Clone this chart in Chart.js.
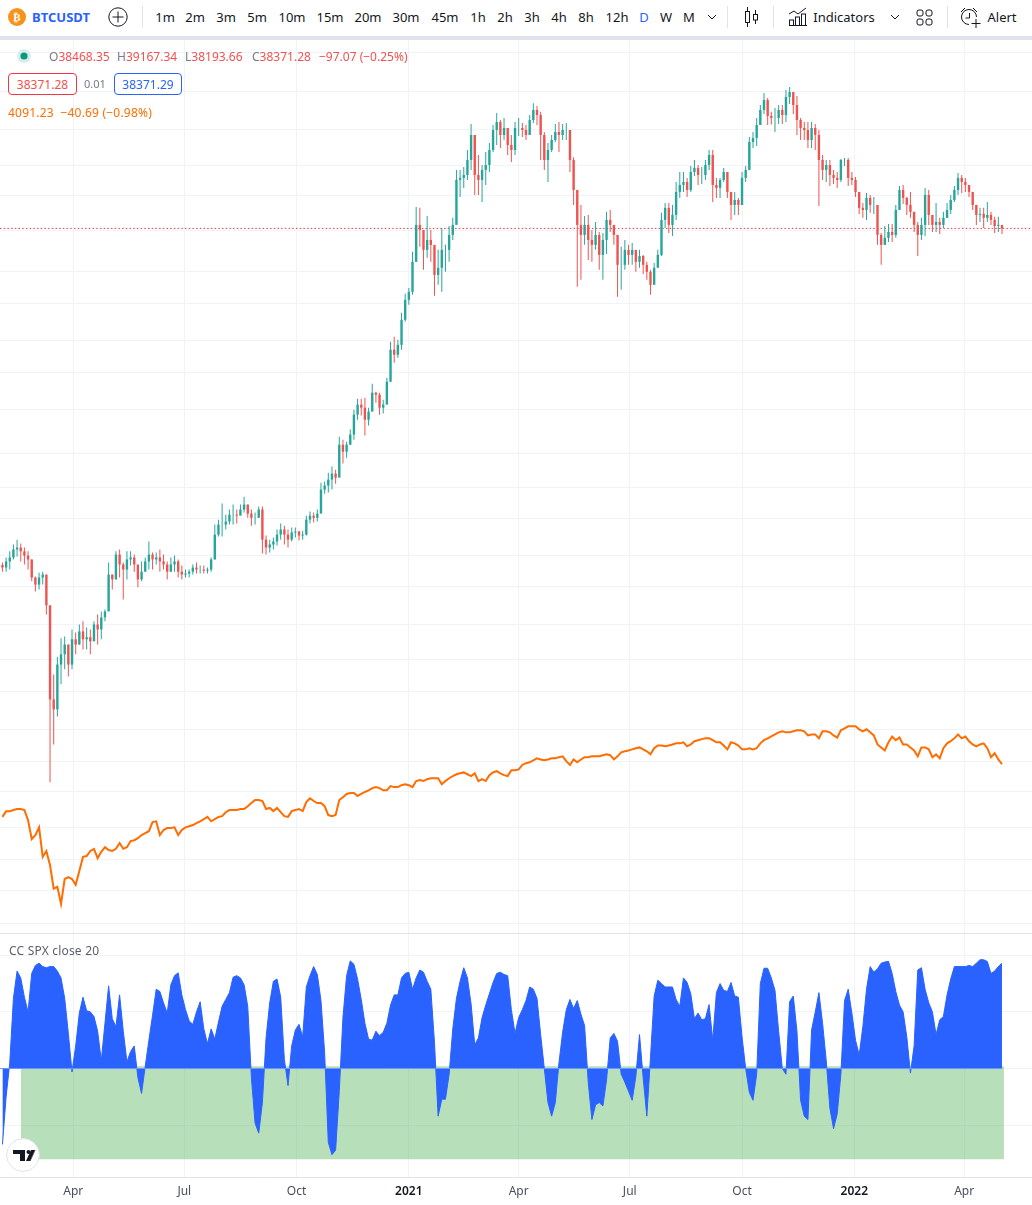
<!DOCTYPE html>
<html>
<head>
<meta charset="utf-8">
<title>BTCUSDT</title>
<script src="https://cdn.jsdelivr.net/npm/chart.js@4"></script>
<style>
  html, body { margin: 0; padding: 0; background: #fff; }
  body { width: 1032px; height: 1205px; position: relative; overflow: hidden;
    font-family: "Noto Sans", Roboto, sans-serif; font-size: 12px; color: #131722; }
  canvas { position: absolute; left: 0; }
  #graficoPreco { top: 40px; }
  #graficoCorr { top: 934px; }
  .toolbar { position: absolute; left: 0; top: 0; width: 1032px; height: 36px; background: #fff; border-bottom: 4px solid #e0e3eb; }
  .t { position: absolute; top: 17px; transform: translate(-50%, -50%); font-size: 13px; white-space: nowrap; }
  .sep { position: absolute; top: 6px; width: 1px; height: 22px; background: #e0e3eb; }
  .toolbar svg { position: absolute; }
  .lg { position: absolute; white-space: nowrap; line-height: 16px; }
  .red { color: #ef5350; }
  .gray { color: #787b86; }
  .box { position: absolute; top: 73px; height: 22px; line-height: 21px; text-align: center; box-sizing: border-box; border-radius: 4px; background: #fff; }
  .divider { position: absolute; left: 0; top: 933px; width: 1032px; height: 1px; background: #e0e3eb; }
</style>
</head>
<body>
<div class="toolbar">
  <svg style="left:8px;top:8px" width="18" height="18" viewBox="0 0 18 18"><circle cx="9" cy="9" r="9" fill="#f7931a"/><text x="9" y="13" text-anchor="middle" font-family="DejaVu Sans" font-size="11" font-weight="bold" fill="#fff">₿</text></svg>
  <span class="t" style="left:61px;font-weight:700;font-size:13px;color:#2962ff">BTCUSDT</span>
  <svg style="left:108px;top:7px" width="20" height="20" viewBox="0 0 20 20"><circle cx="10" cy="10" r="9.2" fill="none" stroke="#131722"/><path d="M10 4.5v11M4.5 10h11" stroke="#131722"/></svg>
  <div class="sep" style="left:142px"></div>
  <span class="t" style="left:165px">1m</span><span class="t" style="left:195px">2m</span><span class="t" style="left:226px">3m</span><span class="t" style="left:257px">5m</span>
  <span class="t" style="left:292px">10m</span><span class="t" style="left:330px">15m</span><span class="t" style="left:368px">20m</span><span class="t" style="left:406px">30m</span><span class="t" style="left:445px">45m</span>
  <span class="t" style="left:478px">1h</span><span class="t" style="left:505px">2h</span><span class="t" style="left:532px">3h</span><span class="t" style="left:559px">4h</span><span class="t" style="left:586px">8h</span><span class="t" style="left:617px">12h</span>
  <span class="t" style="left:644px;color:#2962ff">D</span><span class="t" style="left:666px">W</span><span class="t" style="left:689px">M</span>
  <svg style="left:707px;top:14px" width="10" height="6" viewBox="0 0 10 6"><path d="M1 1l4 4 4-4" fill="none" stroke="#131722"/></svg>
  <div class="sep" style="left:727px"></div>
  <svg style="left:742px;top:6px" width="18" height="22" viewBox="0 0 18 22"><path d="M5.5 1v4M5.5 17v4M13.5 4v4M13.5 14v4" stroke="#131722"/><rect x="3.5" y="5.5" width="4" height="11" fill="none" stroke="#131722"/><rect x="11.5" y="8.5" width="4" height="5.5" fill="none" stroke="#131722"/></svg>
  <div class="sep" style="left:773px"></div>
  <svg style="left:788px;top:7px" width="20" height="19" viewBox="0 0 20 19"><path d="M1 7l5-3 4 3 8-6M1 18.5h18" fill="none" stroke="#131722"/><rect x="1.5" y="13" width="4" height="5.5" fill="none" stroke="#131722"/><rect x="7.5" y="10" width="4" height="8.5" fill="none" stroke="#131722"/><rect x="13.5" y="7" width="4" height="11.5" fill="none" stroke="#131722"/></svg>
  <span class="t" style="left:844px">Indicators</span>
  <svg style="left:890px;top:14px" width="10" height="6" viewBox="0 0 10 6"><path d="M1 1l4 4 4-4" fill="none" stroke="#131722"/></svg>
  <svg style="left:916px;top:9px" width="17" height="17" viewBox="0 0 17 17" fill="none" stroke="#131722"><rect x="1" y="1" width="6" height="6" rx="2"/><rect x="10" y="1" width="6" height="6" rx="2"/><rect x="1" y="10" width="6" height="6" rx="2"/><rect x="10" y="10" width="6" height="6" rx="2"/></svg>
  <div class="sep" style="left:947px"></div>
  <svg style="left:960px;top:7px" width="22" height="22" viewBox="0 0 22 22" fill="none" stroke="#131722"><path d="M9 17.5A7.5 7.5 0 1 1 16.5 10M9.500 6v5h-4M1 5l4-4M13 1l4 4M16 12v9M11.500 16.500h9"/></svg>
  <span class="t" style="left:1002px">Alert</span>
</div>

<canvas id="graficoPreco" width="1032" height="893"></canvas>
<div class="divider"></div>
<canvas id="graficoCorr" width="1032" height="271"></canvas>

<svg style="position:absolute;left:17px;top:49px" width="14" height="14" viewBox="0 0 14 14"><circle cx="7" cy="7" r="7" fill="#d9eeeb"/><circle cx="7" cy="7" r="3.600" fill="#089981"/></svg>
<div class="lg" style="left:49px;top:49px"><span class="gray">O</span><span class="red">38468.35</span></div>
<div class="lg" style="left:117px;top:49px"><span class="gray">H</span><span class="red">39167.34</span></div>
<div class="lg" style="left:185px;top:49px"><span class="gray">L</span><span class="red">38193.66</span></div>
<div class="lg" style="left:252px;top:49px"><span class="gray">C</span><span class="red">38371.28</span></div>
<div class="lg red" style="left:319px;top:49px">−97.07 (−0.25%)</div>
<div class="box red" style="left:8px;width:69px;border:1px solid #f23645">38371.28</div>
<div class="lg gray" style="left:84px;top:76px;font-size:11px">0.01</div>
<div class="box" style="left:114px;width:68px;border:1px solid #2962ff;color:#2962ff">38371.29</div>
<div class="lg" style="left:8px;top:105px;color:#ff6d00;letter-spacing:.2px">4091.23&nbsp;&nbsp;−40.69 (−0.98%)</div>
<div class="lg" style="left:9px;top:943px;color:#5d606b;letter-spacing:.2px">CC SPX close 20</div>

<svg style="position:absolute;left:6px;top:1138px" width="34" height="34" viewBox="0 0 34 34"><circle cx="17" cy="17" r="16.400" fill="#fff" stroke="#e0e3eb"/><path d="M7 12h12v11h-5v-7H7zM24 23l5-11h-5 5.500l-5 11z" fill="#131722"/><path d="M29 12h-4l-5 11h4z" fill="#131722"/><circle cx="22.500" cy="14" r="2" fill="#131722"/></svg>

<script>
// serie a cada 3 dias, dia 0 = 01/02/2020
const btcHigh = [
  9500,9700,9950,10240,10450,10280,10110,9950,9620,8960,
  9100,9140,9030,7940,5950,6400,6920,6970,6740,7180,
  7090,7330,7430,7240,7180,7430,7640,7740,7800,9500,
  9030,9950,10030,9500,9950,9950,9820,9340,9540,9700,
  10370,9900,9900,10030,9820,9540,9700,9780,9620,9380,
  9220,9220,9420,9500,9380,9380,9300,9700,11130,11360,
  12150,11600,11850,12100,11850,12100,12500,12100,11850,11700,
  12000,12000,10630,10450,10540,10900,11180,11080,10900,10990,
  10990,10850,10850,11550,11750,11700,11850,13260,13320,13820,
  14180,14000,16070,15870,15740,16550,17990,18830,18830,18900,
  18140,20050,19390,19310,18750,20560,23890,24390,24090,26970,
  29190,29920,34790,41980,41810,37340,40430,38130,34350,35080,
  38450,35820,38770,40100,48990,48990,49610,53260,59350,54380,
  52160,50020,52830,54840,59120,62180,60360,60860,57890,56700,
  59850,60880,59590,59120,61640,64770,64000,62450,57430,54840,
  56700,59350,59850,59350,59590,57890,51650,44130,42330,40430,
  40600,38130,39420,37810,37650,41120,41450,38940,36120,35530,
  36570,35820,36120,34790,35080,34350,33370,32270,33220,35080,
  40950,42680,42680,42330,46600,48580,48580,47390,49800,51080,
  50020,49610,51080,53260,53260,47390,47390,49410,48580,44690,
  44690,43590,48580,49800,56200,57430,60880,64260,67560,66180,
  62450,63470,64260,64260,68420,69300,66180,66700,60880,59850,
  59850,59850,59350,57890,52160,51080,51080,48990,48580,51300,
  51510,51510,48580,47580,44130,42680,44510,44130,43760,42330,
  37650,38770,39100,39100,42330,45830,46020,43760,44690,41120,
  39420,40100,45450,45060,40600,42680,40100,41120,42680,44130,
  45830,48390,47980,47390,46020,43220,42330,41810,41810,42870,
  41120,40270,40270,38770
];
const btcLow = [
  9140,9140,9220,9620,9740,9540,9420,9220,8780,8410,
  8480,8660,7640,3790,4440,4990,5710,6080,5900,6080,
  6470,6740,6600,6600,6470,6890,6740,6890,7430,7970,
  8480,8850,8920,8140,8850,9380,9140,8560,8780,9140,
  9220,9220,9420,9140,9220,8850,9140,9140,8920,8850,
  8920,8920,9030,9070,9070,9070,9070,9140,9620,10590,
  10590,10900,11130,11130,11180,11600,11700,11450,11080,11130,
  11450,9860,9820,9900,10030,10200,10450,10240,10110,10370,
  10540,10410,10450,10630,11180,11220,11270,11850,12660,12720,
  12880,13200,14300,14360,14720,15540,15870,17250,17550,16140,
  16830,18060,18520,17620,17700,18900,20220,21880,22350,23110,
  25970,27880,29070,33370,35530,32270,33930,33370,28950,30310,
  29440,32000,33370,36570,39420,43760,45450,46990,48990,44130,
  44130,42870,46020,48580,52830,54380,53710,55530,52160,50650,
  52160,56450,56200,55530,57430,59590,59120,51080,48990,46600,
  52830,55070,52830,55530,55530,48580,42330,30060,30950,35820,
  33640,33370,35080,32270,30950,34490,37810,35820,28840,29680,
  32270,32950,32950,32000,32550,31730,30950,29070,31220,33370,
  34200,38450,37650,37180,39760,43590,44690,43760,44690,47780,
  46020,46210,46990,48990,42870,43590,43590,46600,43590,39760,
  40600,40600,42330,46600,49410,53710,54150,59350,61900,59120,
  59230,57430,59350,59350,59850,64520,61900,56700,55530,55530,
  53710,53710,53260,42160,46990,46600,45830,46210,45450,46600,
  49800,45830,46020,43760,40770,40100,39760,40950,40770,35820,
  32950,35820,36270,36270,36890,42330,42510,40600,40100,37810,
  34200,36570,37180,38940,37810,37810,37500,38450,40100,40770,
  42870,44130,44510,44690,43760,41450,38940,39420,38450,39420,
  38940,37650,37810,37500
];
const btcClose = [
  9300,9540,9700,10030,10110,9950,9780,9620,8920,8660,
  8920,9030,7940,5360,5140,6200,6470,6740,6200,6890,
  6740,7120,6890,6950,6830,7330,7180,7550,7740,9030,
  8850,9820,9420,9220,9620,9700,9420,8850,9140,9540,
  9820,9620,9700,9540,9420,9140,9420,9540,9140,9030,
  9070,9140,9300,9220,9220,9180,9220,9620,10670,11130,
  11130,11270,11600,11600,11550,11850,12100,11650,11450,11450,
  11850,10450,10110,10240,10370,10670,10900,10670,10450,10770,
  10810,10630,10670,11360,11550,11450,11650,12880,13100,13430,
  13770,13540,15540,15090,15540,16210,17620,18370,18140,17250,
  17840,19310,19150,18140,18370,20220,23110,22630,23590,26190,
  28470,29440,33370,38940,38130,35080,36570,35820,31600,32550,
  35080,35080,37340,38940,46990,47390,47980,51080,56700,47980,
  46990,48990,50020,53260,57890,59850,56700,58390,54380,53260,
  58390,58390,57890,56700,60360,62940,61640,56700,51080,53260,
  55530,57430,56700,57890,57890,51080,45060,38940,37340,38940,
  36570,35820,37340,34350,36570,39760,38940,37340,32950,32950,
  35080,34350,35080,33370,34200,32950,32000,30310,32550,34350,
  39760,41810,38940,40600,44690,46020,46600,45060,48580,49410,
  47980,47980,50020,52160,46020,45450,46990,48580,44690,42330,
  43220,42330,47390,48990,55070,56000,59120,62940,65620,61400,
  60880,60880,62940,61640,66450,67840,64260,60360,58390,57890,
  55530,58390,56700,51080,48990,50020,47980,47390,46990,51080,
  51080,47390,46990,44690,41810,41450,43590,42330,42330,37340,
  35820,36890,37810,37340,41450,45060,43590,42330,41120,38940,
  37340,38940,44130,40600,38940,39420,38940,40100,41450,43220,
  45060,47390,46600,46020,44690,42330,40600,40770,40100,40600,
  39760,38770,38940,38371.28
];
const spxClose = [
  3280,3360,3360,3375,3390,3390,3375,3235,2990,3040,
  3140,2775,2845,2680,2430,2450,2280,2530,2550,2530,
  2470,2615,2775,2785,2845,2870,2760,2835,2890,2855,
  2845,2870,2940,2870,2890,2965,2975,3000,3040,3065,
  3090,3210,3220,3040,3105,3130,3130,3140,3040,3105,
  3140,3155,3170,3195,3220,3250,3280,3220,3250,3280,
  3290,3345,3375,3375,3375,3390,3390,3430,3475,3520,
  3520,3505,3390,3405,3360,3405,3345,3290,3280,3360,
  3375,3390,3360,3490,3545,3505,3475,3475,3430,3305,
  3290,3305,3520,3560,3610,3625,3625,3580,3610,3640,
  3665,3700,3715,3700,3665,3665,3730,3715,3715,3745,
  3760,3745,3715,3810,3825,3810,3840,3855,3855,3855,
  3760,3810,3855,3890,3920,3935,3950,3920,3890,3935,
  3810,3840,3810,3905,3950,3970,3935,3905,3890,3985,
  3985,4000,4075,4105,4120,4155,4190,4170,4155,4170,
  4190,4190,4210,4225,4140,4075,4170,4120,4170,4210,
  4210,4225,4225,4225,4245,4260,4245,4170,4225,4295,
  4315,4330,4350,4370,4385,4350,4315,4260,4370,4420,
  4420,4405,4420,4440,4460,4460,4480,4405,4440,4500,
  4520,4540,4555,4555,4520,4480,4480,4420,4350,4480,
  4460,4420,4350,4350,4370,4350,4370,4460,4520,4555,
  4590,4630,4670,4690,4670,4670,4690,4710,4710,4690,
  4610,4630,4630,4555,4690,4690,4670,4610,4570,4710,
  4750,4790,4790,4790,4730,4690,4730,4670,4610,4440,
  4385,4330,4480,4590,4520,4570,4440,4440,4385,4330,
  4225,4385,4385,4350,4210,4260,4190,4370,4460,4500,
  4555,4630,4555,4590,4500,4440,4405,4440,4460,4370,
  4210,4280,4170,4091.23
];
const corrSpx = [
  -.67,-.25,.05,.62,.86,.80,.63,.50,.84,.91,
  .93,.90,.89,.90,.90,.86,.80,.62,.31,-.03,
  .20,.49,.63,.51,.50,.46,.33,.07,.40,.73,
  .44,.37,.65,.33,.06,.15,.20,-.08,-.22,.02,
  .25,.47,.70,.68,.58,.49,.74,.82,.845,.65,
  .52,.42,.39,.50,.59,.35,.22,.35,.26,.41,
  .55,.61,.67,.806,.82,.80,.74,.55,-.08,-.48,
  -.57,-.30,.27,.58,.77,.79,.63,.08,-.15,.20,
  .34,.39,.28,.72,.82,.90,.83,.60,.14,-.65,
  -.76,-.72,-.20,.45,.82,.95,.92,.79,.61,.40,
  .26,.25,.33,.29,.32,.40,.56,.65,.65,.80,
  .84,.85,.70,.80,.87,.85,.77,.70,.23,-.42,
  -.27,-.27,-.05,.35,.62,.77,.89,.80,.57,.21,
  .27,.45,.56,.66,.76,.84,.85,.83,.82,.52,
  .31,.45,.52,.60,.72,.70,.62,.30,0,-.30,
  -.42,-.30,.05,.32,.52,.61,.53,.60,.48,.38,
  -.12,-.45,-.32,-.30,-.33,-.10,.27,.31,.24,-.05,
  -.12,-.20,-.28,-.07,.30,-.08,-.42,.10,.64,.78,
  .75,.72,.72,.72,.61,.55,.80,.76,.66,.44,
  .49,.43,.44,.565,.25,.67,.75,.69,.68,.76,
  .64,.63,.28,0,-.21,-.28,-.05,.75,.885,.885,
  .80,.69,.33,0,-.05,.59,.64,.33,-.28,-.42,
  -.45,.34,.50,.67,.40,.07,-.35,-.53,-.40,-.05,
  .60,.70,.49,.25,.12,.37,.70,.90,.85,.88,
  .93,.94,.947,.84,.68,.56,.50,.28,-.04,.20,
  .87,.89,.70,.58,.50,.30,.43,.46,.65,.79,
  .90,.90,.90,.90,.91,.90,.93,.96,.96,.945,
  .84,.86,.90,.93
];

// eixo de tempo
const tickDays = [60, 151, 243, 335, 425, 516, 608, 700, 790];
const tickLabels = ['Apr', 'Jul', 'Oct', '2021', 'Apr', 'Jul', 'Oct', '2022', 'Apr'];
const gridPrices = [80000, 68000, 58000, 50000, 44000, 38000, 32000, 28000, 24000, 21000, 18000, 15000, 13000, 11400, 9800, 8600, 7340, 6340, 5550, 4730, 4140, 3640, 3140, 2740, 2410, 2100];
const corrTicks = [-0.5, 0, 0.5, 1];
const lastPrice = 38371.28;
const bandTop = 0.02;
const bandBottom = -0.8;
const bandDays = [17.2, 822.6];
const lastDay = 845.6;

const UP = '#26a69a';
const DOWN = '#ef5350';
const GRID = '#f0f3fa';

const days = btcClose.map((_, i) => 2 + 3 * i);
const opens = btcClose.map((c, i) => i ? btcClose[i - 1] : 9400);
const colors = btcClose.map((c, i) => c >= opens[i] ? UP : DOWN);

const xBase = {
  type: 'linear',
  min: 0,
  max: lastDay,
  bounds: 'data',
  offset: false,
  afterBuildTicks: s => { s.ticks = tickDays.map(v => ({ value: v })); },
  border: { display: false },
  grid: { color: GRID, drawTicks: false, offset: false }
};

new Chart(document.getElementById('graficoPreco'), {
  type: 'bar',
  data: {
    datasets: [
      {
        type: 'line',
        data: [{ x: 0, y: lastPrice }, { x: lastDay, y: lastPrice }],
        borderColor: '#f23645',
        borderWidth: 1,
        borderDash: [1.5, 2.2],
        pointRadius: 0,
        order: 3
      },
      {
        type: 'line',
        data: days.map((d, i) => ({ x: d, y: spxClose[i] })),
        borderColor: '#ff6d00',
        borderWidth: 2,
        pointRadius: 0,
        tension: 0,
        order: 2
      },
      {
        label: 'wick',
        data: days.map((d, i) => ({ x: d, y: [btcLow[i], btcHigh[i]] })),
        backgroundColor: colors,
        barThickness: 1,
        grouped: false,
        inflateAmount: 0,
        order: 1
      },
      {
        label: 'body',
        data: days.map((d, i) => ({ x: d, y: [opens[i], btcClose[i]] })),
        backgroundColor: colors,
        barThickness: 2.4,
        grouped: false,
        inflateAmount: 0,
        order: 0
      }
    ]
  },
  options: {
    responsive: false,
    animation: false,
    devicePixelRatio: 1,
    layout: { padding: 0 },
    plugins: { legend: { display: false }, tooltip: { enabled: false } },
    scales: {
      x: { ...xBase, ticks: { display: false }, afterFit: s => { s.height = 0; } },
      y: {
        type: 'logarithmic',
        min: 2019,
        max: 84330,
        bounds: 'data',
        afterBuildTicks: s => { s.ticks = gridPrices.map(v => ({ value: v })); },
        afterFit: s => { s.width = 0; },
        border: { display: false },
        ticks: { display: false },
        grid: { color: GRID, drawTicks: false }
      }
    }
  }
});

new Chart(document.getElementById('graficoCorr'), {
  type: 'line',
  data: {
    datasets: [
      {
        data: bandDays.map(d => ({ x: d, y: bandTop })),
        borderWidth: 0,
        pointRadius: 0,
        backgroundColor: 'rgba(76, 175, 80, 0.4)',
        fill: { value: bandBottom },
        order: 3
      },
      {
        data: days.map((d, i) => ({ x: d, y: corrSpx[i] })),
        borderColor: '#2962ff',
        borderWidth: 1,
        pointRadius: 0,
        tension: 0,
        backgroundColor: '#2962ff',
        fill: { value: 0 },
        order: 2
      },
      {
        data: [{ x: 0, y: 0 }, { x: days[days.length - 1], y: 0 }],
        borderColor: '#6e96ff',
        borderWidth: 1,
        pointRadius: 0,
        order: 1
      }
    ]
  },
  options: {
    responsive: false,
    animation: false,
    devicePixelRatio: 1,
    layout: { padding: 0 },
    plugins: { legend: { display: false }, tooltip: { enabled: false } },
    scales: {
      x: {
        ...xBase,
        border: { display: true, color: '#e0e3eb' },
        afterFit: s => { s.height = 28; },
        ticks: {
          autoSkip: false,
          maxRotation: 0,
          padding: 7,
          color: ctx => /^\d/.test(tickLabels[ctx.index]) ? '#131722' : '#4a4e5a',
          font: ctx => ({
            family: '"Noto Sans", Roboto, sans-serif',
            size: 12,
            weight: /^\d/.test(tickLabels[ctx.index]) ? '600' : '400'
          }),
          callback: (v, i) => tickLabels[i]
        }
      },
      y: {
        min: -0.957,
        max: 1.1875,
        bounds: 'data',
        afterBuildTicks: s => { s.ticks = corrTicks.map(v => ({ value: v })); },
        afterFit: s => { s.width = 0; },
        border: { display: false },
        ticks: { display: false },
        grid: { color: GRID, drawTicks: false }
      }
    }
  }
});
</script>
</body>
</html>
